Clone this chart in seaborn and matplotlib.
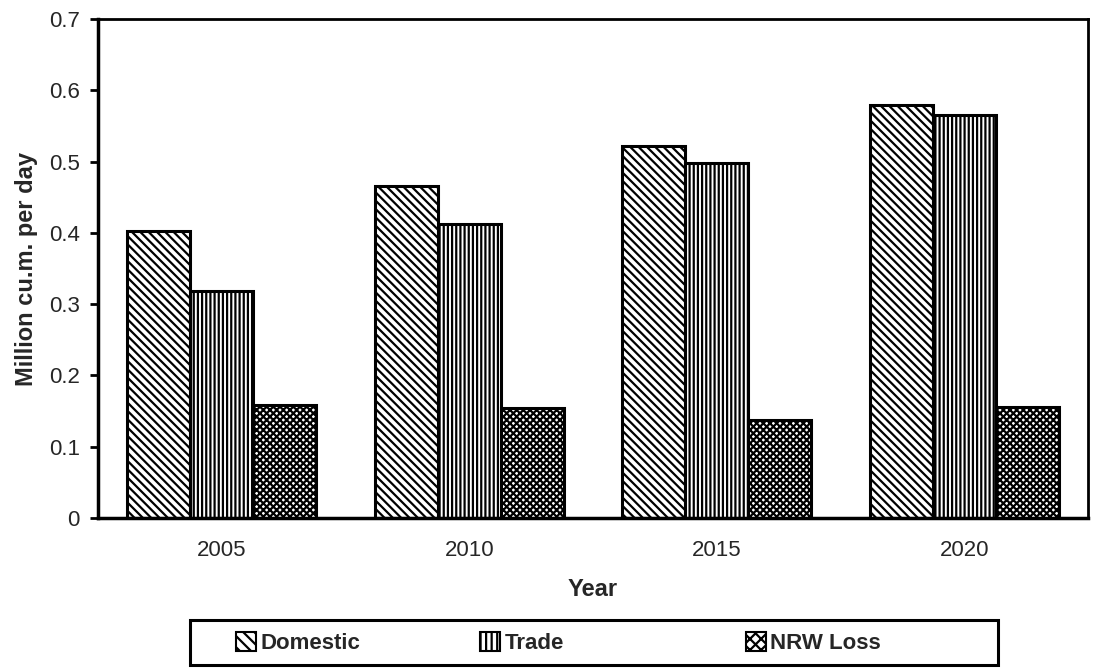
import matplotlib
matplotlib.use("Agg")
import matplotlib.pyplot as plt
import seaborn as sns
import pandas as pd
from matplotlib.patches import Patch, Rectangle

years = ["2005", "2010", "2015", "2020"]
series = ["Domestic", "Trade", "NRW Loss"]
domestic = [0.403, 0.466, 0.522, 0.580]
trade = [0.318, 0.412, 0.498, 0.565]
nrw_loss = [0.158, 0.155, 0.138, 0.156]

sns.set_theme(style="white")
plt.rcParams['font.family'] = ['Liberation Sans', 'DejaVu Sans']
plt.rcParams['hatch.linewidth'] = 1.6
plt.rcParams['hatch.color'] = 'black'

rows = []
for name, vals in zip(series, [domestic, trade, nrw_loss]):
    for y, v in zip(years, vals):
        rows.append({"Year": y, "Series": name, "Value": v})
df = pd.DataFrame(rows)

fig = plt.figure(figsize=(10.93, 6.68), dpi=100)
ax = fig.add_axes([98/1093, 1-518/668, 990/1093, 499/668])

sns.barplot(data=df, x="Year", y="Value", hue="Series", order=years, hue_order=series,
            palette=["white"]*3, edgecolor="black", linewidth=2.2, width=0.765,
            ax=ax, legend=False)

hatches = ["\\\\\\\\", "||||", "xxxxx"]
for cont, h in zip(ax.containers, hatches):
    for p in cont:
        p.set_hatch(h)
        p.set_edgecolor("black")

ax.set_ylim(0, 0.7)
ax.set_yticks([0, 0.1, 0.2, 0.3, 0.4, 0.5, 0.6, 0.7])
ax.set_yticklabels(["0", "0.1", "0.2", "0.3", "0.4", "0.5", "0.6", "0.7"])
ax.tick_params(axis='y', left=True, length=6, width=2, direction='out', labelsize=16, pad=7, color='black')
ax.tick_params(axis='x', bottom=False, labelsize=16, pad=10)
for s in ax.spines.values():
    s.set_color("black")
ax.spines['left'].set_linewidth(2.5)
ax.spines['bottom'].set_linewidth(2.5)
ax.spines['top'].set_linewidth(2)
ax.spines['right'].set_linewidth(2)

ax.set_xlabel("Year", fontsize=17, fontweight='bold', labelpad=12)
ax.set_ylabel("Million cu.m. per day", fontsize=17, fontweight='bold', labelpad=8)

# legend frame
frame = Rectangle((190/1093, 1-665/668), 808/1093, 45/668, transform=fig.transFigure,
                  facecolor='white', edgecolor='black', linewidth=2.2, zorder=1)
fig.patches.append(frame)

leg_hatches = ["\\\\\\", "|||", "xxx"]
starts = [236, 480, 746]
for name, h, x0 in zip(series, leg_hatches, starts):
    hd = Patch(facecolor='white', edgecolor='black', hatch=h, linewidth=1.5)
    lg = fig.legend([hd], [name], loc='center left',
                    bbox_to_anchor=(x0/1093, 1-643/668), frameon=False,
                    prop={'weight': 'bold', 'size': 16}, handlelength=0.9, handleheight=0.9,
                    handletextpad=0.2, borderaxespad=0, borderpad=0)
    lg.set_zorder(2)

fig.savefig("out.png", dpi=100)
